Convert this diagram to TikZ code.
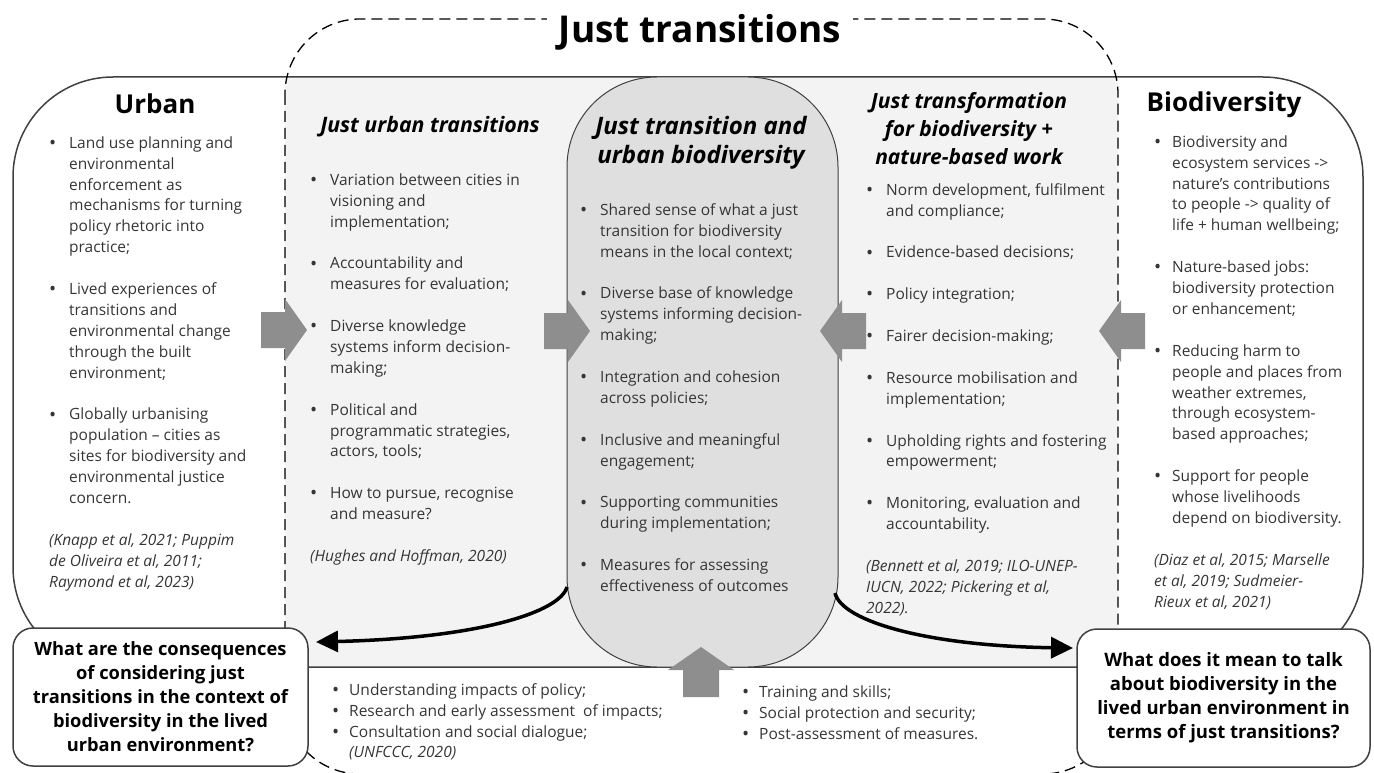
\documentclass[tikz,border=0pt]{standalone}
\usepackage{fontspec}
\setmainfont{Open Sans}
\usetikzlibrary{arrows.meta}
\definecolor{txt}{HTML}{353535}
\definecolor{zone}{HTML}{F3F3F3}
\definecolor{pillc}{HTML}{DFDFDF}
\definecolor{blk}{HTML}{8E8E8E}
\definecolor{edge}{HTML}{404040}
\newcommand{\dotb}{{\fontsize{19}{19}\selectfont\raisebox{-1.2pt}{•}}}
\newcommand{\bi}[2][20pt]{\makebox[#1][l]{\dotb}#2}
\newcommand{\ci}[2][20pt]{\hspace*{#1}#2}
\newcommand{\bodyf}{\fontsize{15.5}{20.9}\selectfont}
\newcommand{\fs}{\rule{0pt}{12pt}}
\newcommand{\gap}{\\[20.9pt]}
\newcommand{\harrow}[3]{\fill[blk] (#1,#2) -- ++({-22*#3},-31) -- ++(0,13) -- ++({-24*#3},0) -- ++(0,36) -- ++({24*#3},0) -- ++(0,13) -- cycle;}
\begin{document}
\begin{tikzpicture}[x=1pt,y=-1pt,
 col/.style={anchor=north west,inner sep=0pt,align=left,text=txt,font=\bodyf},
 headA/.style={anchor=base,inner sep=0pt,font=\bfseries\fontsize{26}{30}\selectfont},
 headB/.style={anchor=north,inner sep=0pt,align=center,font=\bfseries\itshape\fontsize{21}{28}\selectfont},
 qbox/.style={draw=edge,line width=1.5pt,fill=white,rounded corners=20pt,align=center,inner sep=0pt,font=\bfseries\fontsize{18.3}{24}\selectfont},
 curvar/.style={line width=3.5pt,-{Triangle[length=22pt,width=21pt]}},
]
\useasboundingbox (0,0) rectangle (1374,773);
% shaded intersection
\fill[zone] (285,77) rectangle (1118,667);
% outer solid frame
\draw[edge,line width=1.5pt,rounded corners=100pt] (13,77) rectangle (1363,667);
% dashed just transitions frame
\draw[black,line width=1.3pt,dash pattern=on 11pt off 6pt,rounded corners=75pt] (285,19) rectangle (1118,774);
% title
\node[fill=white,inner xsep=12pt,inner ysep=4pt,anchor=base,font=\bfseries\fontsize{37}{40}\selectfont] (title) at (700,43) {Just transitions};
% central pill
\node[draw=edge,line width=1pt,fill=pillc,rounded corners=90pt,minimum width=271pt,minimum height=590pt,inner sep=0pt] (pill) at (702.5,372) {};
% block arrows
\harrow{307}{330}{1}
\harrow{590}{331}{1}
\harrow{820}{331}{-1}
\harrow{1099}{331}{-1}
\fill[blk] (701,647) -- ++(-33,23) -- ++(15,0) -- ++(0,27) -- ++(36,0) -- ++(0,-27) -- ++(15,0) -- cycle;
% question boxes
\node[qbox,minimum width=295pt,minimum height=138pt] (lq) at (160.5,697) {What are the consequences\\of considering just\\transitions in the context of\\biodiversity in the lived\\urban environment?};
\node[qbox,minimum width=293pt,minimum height=138pt,font=\bfseries\fontsize{18.5}{24}\selectfont] (rq) at (1223.5,698) {What does it mean to talk\\about biodiversity in the\\lived urban environment in\\terms of just transitions?};
% curved arrows
\coordinate (ls) at (567,587);
\coordinate (lt) at (316,642);
\draw[curvar] (ls) .. controls (560,612) and (480,638) .. (lt);
\coordinate (rs) at (835,593);
\coordinate (rt) at (1073,648);
\draw[curvar] (rs) .. controls (842,622) and (930,646) .. (rt);
% headings
\node[headA] (urb) at (155,114) {Urban};
\node[headA] (bio) at (1224,112) {Biodiversity};
\node[anchor=base,inner sep=0pt,font=\bfseries\itshape\fontsize{21.3}{28}\selectfont] (jut) at (430,133) {Just urban transitions};
\node[anchor=north,inner sep=0pt,align=center,font=\bfseries\itshape\fontsize{24}{29}\selectfont] (jtub) at (701,116) {\rule{0pt}{18pt}Just transition and\\urban biodiversity};
\node[headB] (jtb) at (969,92) {\rule{0pt}{16pt}Just transformation\\for biodiversity +\\nature-based work};
% columns
\node[col] (urbl) at (49,136) {\fs\bi{Land use planning and}\\\ci{environmental}\\\ci{enforcement as}\\\ci{mechanisms for turning}\\\ci{policy rhetoric into}\\\ci{practice;}\gap
\bi{Lived experiences of}\\\ci{transitions and}\\\ci{environmental change}\\\ci{through the built}\\\ci{environment;}\gap
\bi{Globally urbanising}\\\ci{population – cities as}\\\ci{sites for biodiversity and}\\\ci{environmental justice}\\\ci{concern.}\gap
\textit{(Knapp et al, 2021; Puppim}\\\textit{de Oliveira et al, 2011;}\\\textit{Raymond et al, 2023)}};
\node[col] (jutl) at (310,173) {\fs\bi{Variation between cities in}\\\ci{visioning and}\\\ci{implementation;}\gap
\bi{Accountability and}\\\ci{measures for evaluation;}\gap
\bi{Diverse knowledge}\\\ci{systems inform decision-}\\\ci{making;}\gap
\bi{Political and}\\\ci{programmatic strategies,}\\\ci{actors, tools;}\gap
\bi{How to pursue, recognise}\\\ci{and measure?}\gap
\textit{(Hughes and Hoffman, 2020)}};
\node[col] (jtubl) at (580,203) {\fs\bi{Shared sense of what a just}\\\ci{transition for biodiversity}\\\ci{means in the local context;}\gap
\bi{Diverse base of knowledge}\\\ci{systems informing decision-}\\\ci{making;}\gap
\bi{Integration and cohesion}\\\ci{across policies;}\gap
\bi{Inclusive and meaningful}\\\ci{engagement;}\gap
\bi{Supporting communities}\\\ci{during implementation;}\gap
\bi{Measures for assessing}\\\ci{effectiveness of outcomes}};
\node[col] (jtbl) at (866,183) {\fs\bi{Norm development, fulfilment}\\\ci{and compliance;}\gap
\bi{Evidence-based decisions;}\gap
\bi{Policy integration;}\gap
\bi{Fairer decision-making;}\gap
\bi{Resource mobilisation and}\\\ci{implementation;}\gap
\bi{Upholding rights and fostering}\\\ci{empowerment;}\gap
\bi{Monitoring, evaluation and}\\\ci{accountability.}\gap
\textit{(Bennett et al, 2019; ILO-UNEP-}\\\textit{IUCN, 2022; Pickering et al,}\\\textit{2022).}};
\node[col] (biol) at (1154,135) {\fs\bi[18pt]{Biodiversity and}\\\ci[18pt]{ecosystem services -{}>}\\\ci[18pt]{nature’s contributions}\\\ci[18pt]{to people -{}> quality of}\\\ci[18pt]{life + human wellbeing;}\gap
\bi[18pt]{Nature-based jobs:}\\\ci[18pt]{biodiversity protection}\\\ci[18pt]{or enhancement;}\gap
\bi[18pt]{Reducing harm to}\\\ci[18pt]{people and places from}\\\ci[18pt]{weather extremes,}\\\ci[18pt]{through ecosystem-}\\\ci[18pt]{based approaches;}\gap
\bi[18pt]{Support for people}\\\ci[18pt]{whose livelihoods}\\\ci[18pt]{depend on biodiversity.}\gap
\textit{(Diaz et al, 2015; Marselle}\\\textit{et al, 2019; Sudmeier-}\\\textit{Rieux et al, 2021)}};
\node[col] (botl) at (332,683) {\fs\bi[17pt]{Understanding impacts of policy;}\\\bi[17pt]{Research and early assessment\ \ of impacts;}\\\bi[17pt]{Consultation and social dialogue;}\\\ci[17pt]{\textit{(UNFCCC, 2020)}}};
\node[col] (botr) at (742,685) {\fs\bi[17pt]{Training and skills;}\\\bi[17pt]{Social protection and security;}\\\bi[17pt]{Post-assessment of measures.}};
\end{tikzpicture}
\end{document}
